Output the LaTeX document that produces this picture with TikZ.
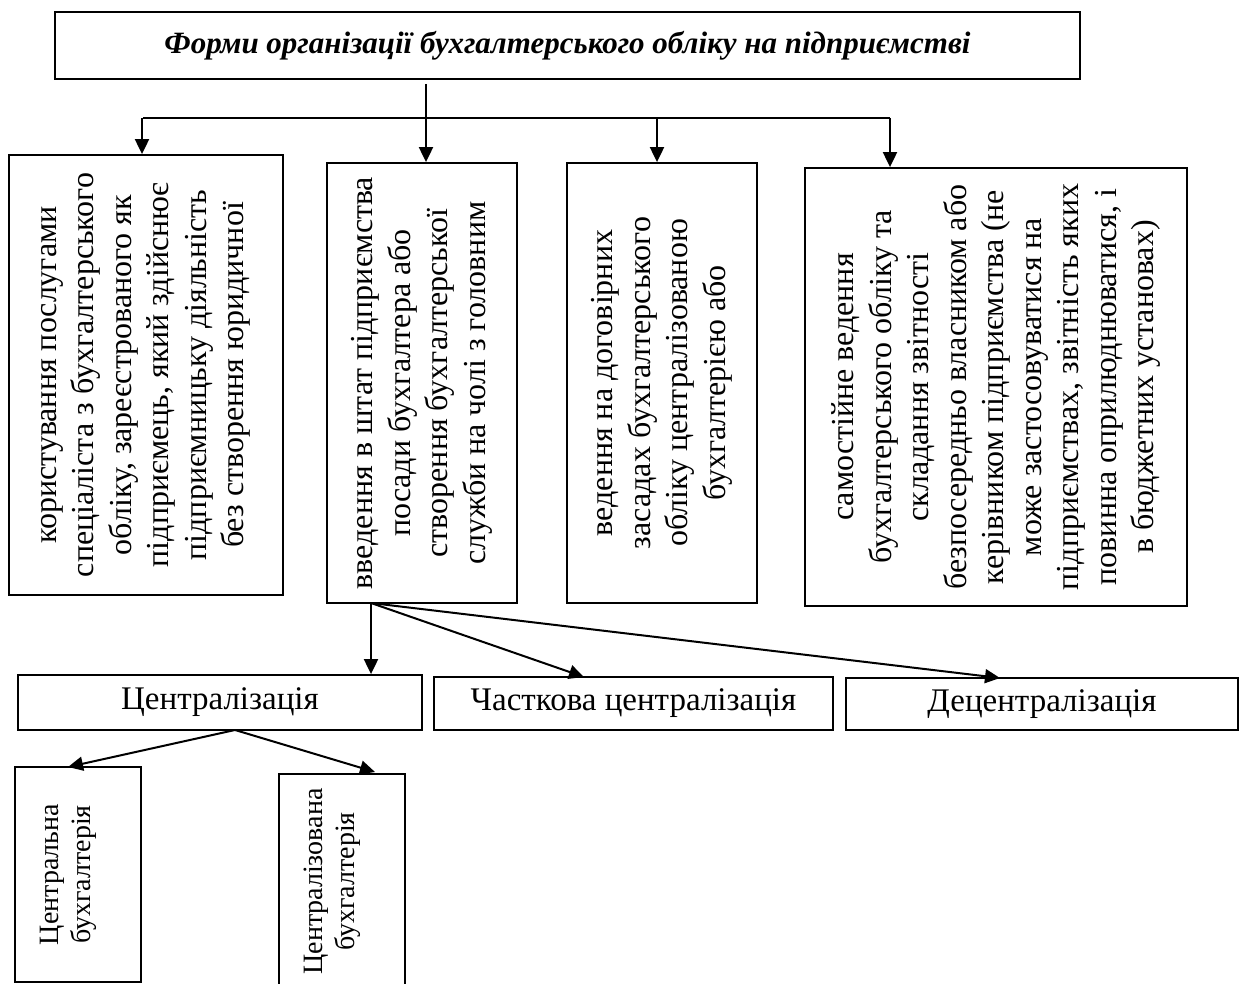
\documentclass[tikz,border=0pt]{standalone}
\usepackage{fontspec}
\setmainfont{Liberation Serif}
\usetikzlibrary{arrows.meta,calc}
\begin{document}
\begin{tikzpicture}[x=1pt,y=-1pt,
  box/.style={draw, line width=1.8pt, inner sep=0pt, align=center},
  vbox/.style={box, rotate=90, font=\fontsize{32}{37.5}\selectfont},
  stext/.style={rotate=90, inner sep=0pt, align=center, font=\fontsize{28}{32}\selectfont},
  hbox/.style={box, font=\fontsize{33}{38}\selectfont},
  arr/.style={-{Triangle[length=15pt,width=14pt]}, line width=2pt},
  ln/.style={line width=2pt}]
\useasboundingbox (0,0) rectangle (1243,984);
\clip (0,0) rectangle (1243,984);

\node[box, minimum width=1025pt, minimum height=67pt,
  font=\fontsize{31}{36}\selectfont\bfseries\itshape] (title) at (567.5,45.5)
  {Форми організації бухгалтерського обліку на підприємстві};

\node[vbox, minimum width=440pt, minimum height=274pt] (b1) at (146,375)
  {користування послугами\\спеціаліста з бухгалтерського\\обліку, зареєстрованого як\\підприємець, який здійснює\\підприємницьку діяльність\\без створення юридичної};
\node[vbox, minimum width=440pt, minimum height=190pt] (b2) at (422,383)
  {введення в штат підприємства\\посади бухгалтера або\\створення бухгалтерської\\служби на чолі з головним};
\node[vbox, minimum width=440pt, minimum height=190pt] (b3) at (662,383)
  {ведення на договірних\\засадах бухгалтерського\\обліку централізованою\\бухгалтерією або};
\node[vbox, minimum width=438pt, minimum height=382pt] (b4) at (996,387)
  {самостійне ведення\\бухгалтерського обліку та\\складання звітності\\безпосередньо власником або\\керівником підприємства (не\\може застосовуватися на\\підприємствах, звітність яких\\повинна оприлюднюватися, і\\в бюджетних установах)};

\node[hbox, minimum width=404pt, minimum height=55pt] (c1) at (220,702.5) {Централізація};
\node[hbox, minimum width=399pt, minimum height=53pt] (c2) at (633.5,703.5) {Часткова централізація};
\node[hbox, minimum width=392pt, minimum height=52pt] (c3) at (1042,704) {Децентралізація};

\node[box, minimum width=126pt, minimum height=215pt] (d1) at (78,874.5) {};
\node[stext] (d1t) at ($(d1.center)+(-10,0)$) {Центральна\\бухгалтерія};
\node[box, minimum width=126pt, minimum height=221pt] (d2) at (342,884.5) {};
\node[stext] (d2t) at ($(d2.center)+(-10,-3)$) {Централізована\\бухгалтерія};

% top connectors
\coordinate (t0) at (426,84);
\draw[arr] (t0) -- (t0 |- b2.east);
\coordinate (hL) at (143,118);
\coordinate (hR) at (890,118);
\draw[ln] (hL) -- (hR);
\coordinate (a1) at (142,118);
\draw[arr] (a1) -- (a1 |- b1.east);
\coordinate (a3) at (657,118);
\draw[arr] (a3) -- (a3 |- b3.east);
\draw[arr] (hR) -- (hR |- b4.east);

% from b2 to bottom row
\coordinate (s0) at (371,603);
\draw[arr] (s0) -- (s0 |- c1.north);
\coordinate (e2) at (584,677);
\draw[arr] (s0) -- (e2);
\coordinate (e3) at (1000,678);
\draw[arr] (s0) -- (e3);

% from c1 to small boxes
\coordinate (s1) at (235,730);
\coordinate (f1) at (68,767);
\coordinate (f2) at (375,772);
\draw[arr] (s1) -- (f1);
\draw[arr] (s1) -- (f2);
\end{tikzpicture}
\end{document}
